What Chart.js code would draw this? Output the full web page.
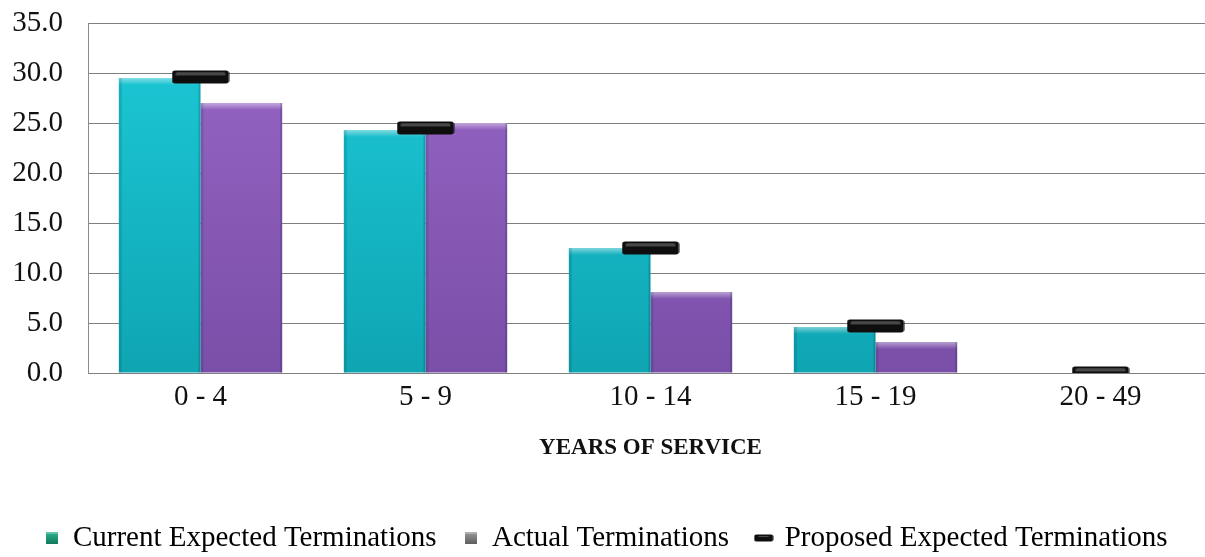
<!DOCTYPE html>
<html>
<head>
<meta charset="utf-8">
<script src="https://cdn.jsdelivr.net/npm/chart.js@4/dist/chart.umd.min.js"></script>
<style>
  html, body { margin: 0; padding: 0; background: #fff; overflow: hidden; width: 1205px; height: 557px; }
  #wrap { width: 1213px; height: 557px; }
</style>
</head>
<body>
<div id="wrap"><canvas id="chart" width="1213" height="557"></canvas></div>
<script>
// Years-of-service bands on the x axis
const categories = ['0 - 4', '5 - 9', '10 - 14', '15 - 19', '20 - 49'];

// Termination rates per band
const currentExpected = [29.5, 24.3, 12.5, 4.6, 0.0];
const actual = [27.0, 25.0, 8.1, 3.1, 0.0];
const proposedExpected = [29.6, 24.5, 12.5, 4.7, 0.0];

// Y axis tick values
const yTicks = [0, 5, 10, 15, 20, 25, 30, 35];

const seriesNames = ['Current Expected Terminations', 'Actual Terminations', 'Proposed Expected Terminations'];

const FONT = "'Liberation Serif', 'Times New Roman', serif";

// Small canvases used as point / legend glyphs
function roundRect(ctx, x, y, w, h, r) {
  ctx.beginPath();
  ctx.moveTo(x + r, y);
  ctx.lineTo(x + w - r, y);
  ctx.quadraticCurveTo(x + w, y, x + w, y + r);
  ctx.lineTo(x + w, y + h - r);
  ctx.quadraticCurveTo(x + w, y + h, x + w - r, y + h);
  ctx.lineTo(x + r, y + h);
  ctx.quadraticCurveTo(x, y + h, x, y + h - r);
  ctx.lineTo(x, y + r);
  ctx.quadraticCurveTo(x, y, x + r, y);
  ctx.closePath();
}

function makeMarker(w, h, r) {
  const c = document.createElement('canvas');
  c.width = w; c.height = h;
  const g = c.getContext('2d');
  roundRect(g, 0.5, 0.5, w - 1, h - 1, r);
  g.fillStyle = '#0e0e0e';
  g.fill();
  // faint inner sheen
  const grad = g.createLinearGradient(0, 0, 0, h);
  grad.addColorStop(0, 'rgba(255,255,255,0.05)');
  grad.addColorStop(0.3, 'rgba(255,255,255,0.28)');
  grad.addColorStop(0.45, 'rgba(255,255,255,0.0)');
  grad.addColorStop(1, 'rgba(255,255,255,0.0)');
  g.fillStyle = grad;
  roundRect(g, 4, 2, w - 8, h - 5, 2);
  g.fill();
  return c;
}

function makeSwatch(size, top, bottom) {
  const c = document.createElement('canvas');
  c.width = size; c.height = size;
  const g = c.getContext('2d');
  const grad = g.createLinearGradient(0, 0, 0, size);
  grad.addColorStop(0, top);
  grad.addColorStop(1, bottom);
  g.fillStyle = grad;
  g.fillRect(0, 0, size, size);
  g.fillStyle = 'rgba(255,255,255,0.25)';
  g.fillRect(0, 0, size, 2);
  return c;
}

const proposedMarker = makeMarker(58, 14, 3);
const legendIcons = [
  makeSwatch(12, '#2fb38f', '#137a5e'),
  makeSwatch(12, '#9a9a9a', '#5e5e5e'),
  makeMarker(20, 8, 2)
];

// Vertical gradient fill spanning the plot area
function barFill(top, bottom) {
  return function (context) {
    const area = context.chart.chartArea;
    if (!area) return bottom;
    const g = context.chart.ctx.createLinearGradient(0, area.top, 0, area.bottom);
    g.addColorStop(0, top);
    g.addColorStop(1, bottom);
    return g;
  };
}

// Bevel shading on each bar: light top lip, darker side edges
const bevelPlugin = {
  id: 'bevel',
  afterDatasetDraw(chart, args) {
    const meta = args.meta;
    if (meta.type !== 'bar') return;
    const ctx = chart.ctx;
    ctx.save();
    meta.data.forEach(bar => {
      const p = bar.getProps(['x', 'y', 'base', 'width'], true);
      const left = p.x - p.width / 2;
      const h = p.base - p.y;
      if (h < 2) return;
      const lipH = Math.min(7, h);
      const lip = ctx.createLinearGradient(0, p.y, 0, p.y + lipH);
      lip.addColorStop(0, 'rgba(255,255,255,0.45)');
      lip.addColorStop(1, 'rgba(255,255,255,0)');
      ctx.fillStyle = lip;
      ctx.fillRect(left, p.y, p.width, lipH);
      ctx.fillStyle = 'rgba(0,40,60,0.14)';
      ctx.fillRect(left, p.y, 3, h);
      ctx.fillStyle = 'rgba(0,20,40,0.18)';
      ctx.fillRect(left + p.width - 2, p.y, 2, h);
    });
    ctx.restore();
  }
};

new Chart(document.getElementById('chart'), {
  type: 'bar',
  data: {
    labels: categories,
    datasets: [
      {
        label: seriesNames[0],
        data: currentExpected,
        backgroundColor: barFill('#1dcad8', '#0fa5b3'),
        borderWidth: 0,
        categoryPercentage: 0.726,
        barPercentage: 1.0,
        order: 2
      },
      {
        label: seriesNames[1],
        data: actual,
        backgroundColor: barFill('#9866c6', '#7a4fa8'),
        borderWidth: 0,
        categoryPercentage: 0.726,
        barPercentage: 1.0,
        order: 2
      },
      {
        type: 'line',
        label: seriesNames[2],
        data: proposedExpected,
        showLine: false,
        pointStyle: proposedMarker,
        pointRadius: 10,
        pointHoverRadius: 10,
        order: 0
      }
    ]
  },
  plugins: [bevelPlugin],
  options: {
    responsive: false,
    animation: false,
    events: [],
    layout: { autoPadding: false, padding: { top: 23, left: 0, right: 0, bottom: -5.5 } },
    plugins: {
      tooltip: { enabled: false },
      legend: {
        position: 'bottom',
        labels: {
          usePointStyle: true,
          boxWidth: 13,
          padding: 28,
          color: '#111',
          font: { family: FONT, size: 29 },
          generateLabels(chart) {
            return chart.data.datasets.map((ds, i) => ({
              text: ds.label,
              fillStyle: '#000',
              strokeStyle: '#000',
              lineWidth: 0,
              pointStyle: legendIcons[i],
              datasetIndex: i,
              hidden: false
            }));
          }
        }
      }
    },
    scales: {
      x: {
        grid: { display: false, drawTicks: false },
        border: { display: false },
        ticks: { color: '#111', padding: 7, font: { family: FONT, size: 29 } },
        title: {
          display: true,
          text: 'YEARS OF SERVICE',
          color: '#111',
          font: { family: FONT, size: 23, weight: 'bold' },
          padding: { top: 0, bottom: 34 }
        },
        afterFit(scale) {
          scale.height = 122.5;
          scale.paddingLeft = 0;
          scale.paddingRight = 0;
        }
      },
      y: {
        min: 0,
        max: 35,
        afterBuildTicks(scale) { scale.ticks = yTicks.map(v => ({ value: v })); },
        grid: { color: '#7f7f7f', lineWidth: 1, drawTicks: false },
        border: { display: true, color: '#8c8c8c', width: 1 },
        ticks: {
          color: '#111',
          padding: 25,
          font: { family: FONT, size: 29 },
          callback: v => Number(v).toFixed(1)
        },
        afterFit(scale) {
          scale.width = 88;
          scale.paddingTop = 0;
          scale.paddingBottom = 0;
        }
      }
    }
  }
});
</script>
</body>
</html>
